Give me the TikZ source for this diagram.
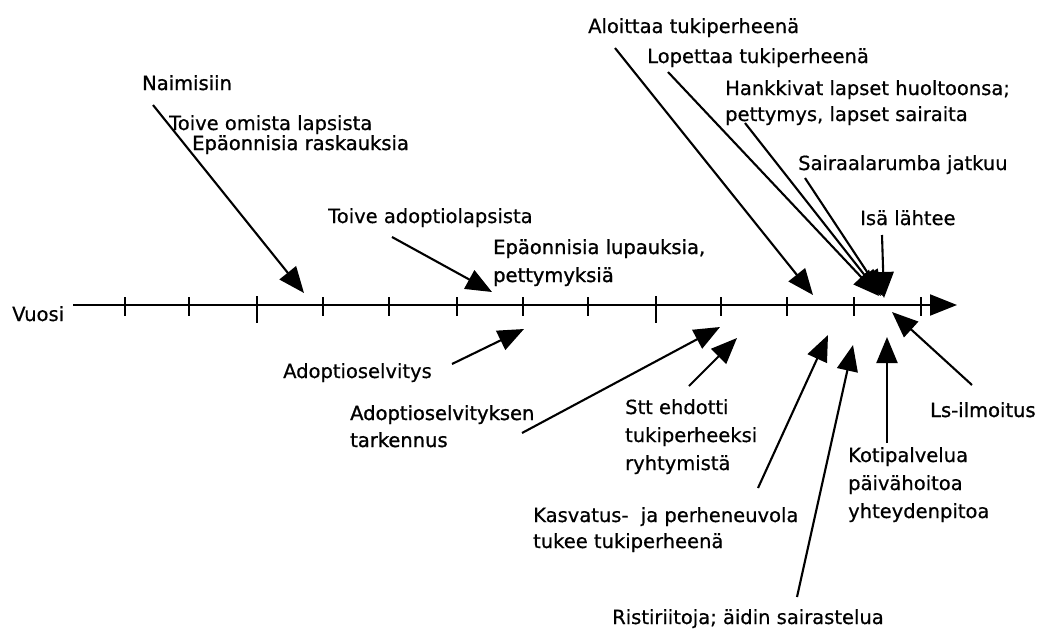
\documentclass[tikz,border=0pt]{standalone}
\usepackage{fontspec}
\setmainfont{DejaVu Sans}
\newfontfamily\txtreg{DejaVu Sans}[UprightFeatures={FakeBold=0.6}]
\newfontfamily\txtdark{DejaVu Sans}[UprightFeatures={FakeBold=1.2}]
\usetikzlibrary{arrows.meta}
\begin{document}
\begin{tikzpicture}[x=1pt,y=-1pt,
  lbl/.style={anchor=base west,inner sep=0pt,align=left,font=\txtreg\fontsize{19.5}{28}\selectfont},
  dlbl/.style={lbl,font=\txtdark\fontsize{19.5}{28}\selectfont},
  arr/.style={line width=2.1pt,-{Triangle[length=26pt,width=21pt]}},
  axtick/.style={line width=1.8pt},
  axline/.style={line width=2.1pt,-{Triangle[length=27pt,width=21pt]}}]
\useasboundingbox (0,0) rectangle (1045,630);
% axis
\node[lbl] (vuosi) at (12,321) {Vuosi};
\coordinate (axs) at (73,305);
\coordinate (axe) at (957,305);
\draw[axline] (axs) -- (axe);
\foreach \x in {125,189,323,389,457,523,588,721,787,854,921}
  \draw[axtick] (\x,297) -- (\x,316);
\foreach \x in {257,656}
  \draw[axtick] (\x,296) -- (\x,323);
% labels above (base = baseline of last line)
\node[dlbl] (naim) at (142,90) {Naimisiin};
\node[lbl] (toive1) at (169,130) {Toive omista lapsista};
\node[dlbl] (epa1) at (192,150) {Epäonnisia raskauksia};
\node[lbl] (toive2) at (328,223) {Toive adoptiolapsista};
\node[dlbl] (epa2) at (493,282) {Epäonnisia lupauksia,\\pettymyksiä};
\node[lbl] (aloit) at (588,33) {Aloittaa tukiperheenä};
\node[lbl] (lopet) at (647,63) {Lopettaa tukiperheenä};
\node[lbl] (hank) at (725,121) {Hankkivat lapset huoltoonsa;\\[-2pt]pettymys, lapset sairaita};
\node[lbl] (sair) at (798,170) {Sairaalarumba jatkuu};
\node[lbl] (isa) at (860,225) {Isä lähtee};
% labels below
\node[lbl] (adop) at (283,378) {Adoptioselvitys};
\node[dlbl] (adopt) at (350,447) {Adoptioselvityksen\\[-1pt]tarkennus};
\node[lbl] (stt) at (625,470) {Stt ehdotti\\tukiperheeksi\\ryhtymistä};
\node[lbl] (kasv) at (533,548) {Kasvatus-\ \ ja perheneuvola\\[-2pt]tukee tukiperheenä};
\node[lbl] (rist) at (612,624) {Ristiriitoja; äidin sairastelua};
\node[lbl] (koti) at (848,518) {Kotipalvelua\\päivähoitoa\\yhteydenpitoa};
\node[dlbl] (ls) at (930,417) {Ls-ilmoitus};
% arrow end points
\coordinate (naimS) at (153,105);  \coordinate (naimE) at (304,293);
\coordinate (toiveS) at (392,237); \coordinate (toiveE) at (492,292);
\coordinate (adopS) at (452,364);  \coordinate (adopE) at (524,329);
\coordinate (adoptS) at (522,433); \coordinate (adoptE) at (720,327);
\coordinate (sttS) at (689,386);   \coordinate (sttE) at (737,338);
\coordinate (kasvS) at (758,488);  \coordinate (kasvE) at (828,335);
\coordinate (ristS) at (797,597);  \coordinate (ristE) at (853,345);
\coordinate (kotiS) at (887,443);  \coordinate (kotiE) at (887,337);
\coordinate (lsS) at (972,385);    \coordinate (lsE) at (892,312);
\coordinate (aloitS) at (615,48);  \coordinate (aloitE) at (813,295);
\coordinate (lopetS) at (668,72);  \coordinate (lopetE) at (879,296);
\coordinate (hankS) at (745,123);  \coordinate (hankE) at (881,296);
\coordinate (sairS) at (805,178);  \coordinate (sairE) at (883,296);
\coordinate (isaS) at (882,235);   \coordinate (isaE) at (884,298);
% arrows
\draw[arr] (naimS) -- (naimE);
\draw[arr] (toiveS) -- (toiveE);
\draw[arr] (adopS) -- (adopE);
\draw[arr] (adoptS) -- (adoptE);
\draw[arr] (sttS) -- (sttE);
\draw[arr] (kasvS) -- (kasvE);
\draw[arr] (ristS) -- (ristE);
\draw[arr] (kotiS) -- (kotiE);
\draw[arr] (lsS) -- (lsE);
\draw[arr] (aloitS) -- (aloitE);
\draw[arr] (lopetS) -- (lopetE);
\draw[arr] (hankS) -- (hankE);
\draw[arr] (sairS) -- (sairE);
\draw[arr] (isaS) -- (isaE);
\end{tikzpicture}
\end{document}
